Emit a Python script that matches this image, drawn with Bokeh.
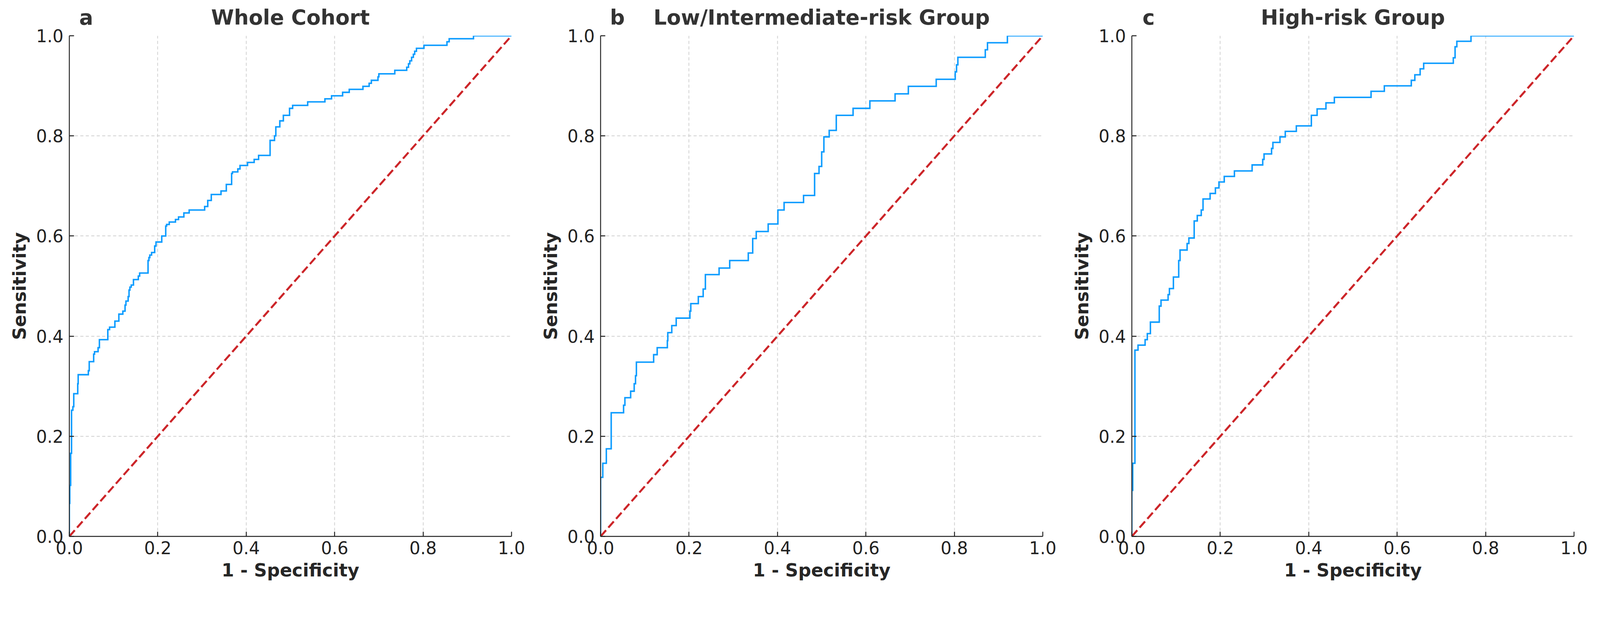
from bokeh.plotting import figure
from bokeh.layouts import row
from bokeh.models import Range1d, FixedTicker, PrintfTickFormatter, LinearAxis
from bokeh.embed import file_html
from bokeh.resources import INLINE

# ---------------- data ----------------
tick_vals = [0.0, 0.2, 0.4, 0.6, 0.8, 1.0]
diag_x = [0.0, 1.0]
diag_y = [0.0, 1.0]

panel_letters = ["a", "b", "c"]
panel_titles = ["Whole Cohort", "Low/Intermediate-risk Group", "High-risk Group"]
letter_pos = 0.038   # panel letter centre, as a fraction of the x axis
title_pos = 0.5
x_label = "1 - Specificity"
y_label = "Sensitivity"

# ROC steps: false positive rate where each vertical jump happens, and sensitivity reached
a_fpr = [0.000, 0.001, 0.003, 0.005, 0.008, 0.010, 0.019, 0.020, 0.043, 0.045,
         0.055, 0.057, 0.065, 0.068, 0.087, 0.091, 0.103, 0.112, 0.121, 0.126,
         0.128, 0.133, 0.135, 0.137, 0.140, 0.145, 0.156, 0.159, 0.178, 0.180,
         0.182, 0.186, 0.193, 0.196, 0.209, 0.218, 0.220, 0.226, 0.240, 0.247,
         0.259, 0.271, 0.306, 0.313, 0.321, 0.343, 0.355, 0.367, 0.369, 0.381,
         0.386, 0.403, 0.418, 0.428, 0.454, 0.464, 0.467, 0.476, 0.484, 0.498,
         0.505, 0.539, 0.578, 0.593, 0.618, 0.633, 0.664, 0.678, 0.683, 0.698,
         0.700, 0.736, 0.763, 0.767, 0.770, 0.774, 0.778, 0.781, 0.785, 0.802,
         0.854, 0.859, 0.914, 1.000]
a_tpr = [0.066, 0.102, 0.166, 0.252, 0.259, 0.285, 0.305, 0.323, 0.331, 0.349,
         0.364, 0.369, 0.377, 0.393, 0.413, 0.418, 0.430, 0.444, 0.450, 0.462,
         0.470, 0.479, 0.492, 0.498, 0.502, 0.513, 0.520, 0.526, 0.551, 0.557,
         0.562, 0.567, 0.580, 0.588, 0.600, 0.620, 0.623, 0.628, 0.633, 0.638,
         0.646, 0.652, 0.659, 0.671, 0.683, 0.690, 0.703, 0.725, 0.728, 0.734,
         0.741, 0.747, 0.753, 0.761, 0.791, 0.800, 0.818, 0.830, 0.841, 0.855,
         0.861, 0.868, 0.874, 0.880, 0.887, 0.893, 0.899, 0.905, 0.911, 0.918,
         0.924, 0.931, 0.937, 0.944, 0.950, 0.957, 0.963, 0.969, 0.975, 0.981,
         0.988, 0.994, 1.000, 1.000]

b_fpr = [0.000, 0.005, 0.013, 0.024, 0.052, 0.055, 0.068, 0.076, 0.079, 0.081,
         0.120, 0.128, 0.151, 0.152, 0.161, 0.171, 0.202, 0.204, 0.221, 0.232,
         0.237, 0.268, 0.292, 0.334, 0.344, 0.352, 0.379, 0.401, 0.415, 0.459,
         0.484, 0.494, 0.500, 0.505, 0.517, 0.533, 0.571, 0.609, 0.666, 0.696,
         0.759, 0.802, 0.805, 0.808, 0.870, 0.875, 0.920, 1.000]
b_tpr = [0.118, 0.146, 0.175, 0.247, 0.262, 0.277, 0.290, 0.305, 0.321, 0.348,
         0.363, 0.377, 0.391, 0.407, 0.421, 0.436, 0.450, 0.465, 0.479, 0.494,
         0.523, 0.536, 0.551, 0.566, 0.595, 0.609, 0.624, 0.652, 0.667, 0.681,
         0.725, 0.739, 0.768, 0.798, 0.811, 0.841, 0.855, 0.870, 0.884, 0.899,
         0.913, 0.928, 0.942, 0.957, 0.972, 0.986, 1.000, 1.000]

c_fpr = [0.000, 0.002, 0.007, 0.014, 0.030, 0.035, 0.042, 0.062, 0.066, 0.082,
         0.085, 0.094, 0.106, 0.109, 0.125, 0.129, 0.141, 0.148, 0.157, 0.161,
         0.177, 0.189, 0.197, 0.209, 0.232, 0.272, 0.296, 0.299, 0.316, 0.319,
         0.335, 0.347, 0.372, 0.406, 0.419, 0.439, 0.458, 0.541, 0.571, 0.632,
         0.640, 0.652, 0.660, 0.727, 0.731, 0.735, 0.767, 1.000]
c_tpr = [0.092, 0.146, 0.372, 0.382, 0.393, 0.405, 0.428, 0.460, 0.472, 0.483,
         0.495, 0.518, 0.551, 0.572, 0.585, 0.596, 0.630, 0.641, 0.652, 0.674,
         0.685, 0.696, 0.708, 0.719, 0.730, 0.742, 0.753, 0.764, 0.775, 0.787,
         0.798, 0.809, 0.820, 0.841, 0.854, 0.866, 0.877, 0.889, 0.900, 0.911,
         0.922, 0.934, 0.945, 0.956, 0.978, 0.989, 1.000, 1.000]

series = [(a_fpr, a_tpr), (b_fpr, b_tpr), (c_fpr, c_tpr)]

# ---------------- styling ----------------
BLUE = "#0d9cff"
RED = "#cc2529"
TEXT = "#262626"
FONT = "DejaVu Sans"


def roc_corners(fpr, tpr):
    xs, ys = [0.0], [0.0]
    prev = 0.0
    for x, y in zip(fpr, tpr):
        xs.append(x); ys.append(prev)
        xs.append(x); ys.append(y)
        prev = y
    return xs, ys


def make_panel(letter, title, fpr, tpr):
    p = figure(width=1360, height=1500,
               x_range=Range1d(0, 1), y_range=Range1d(0, 1),
               output_backend="svg", toolbar_location=None,
               min_border_left=177, min_border_right=51,
               min_border_top=91, min_border_bottom=128)
    p.outline_line_color = None
    p.background_fill_color = "white"
    p.border_fill_color = "white"

    for ax in (p.xaxis[0], p.yaxis[0]):
        ax.ticker = FixedTicker(ticks=tick_vals)
        ax.formatter = PrintfTickFormatter(format="%.1f")
        ax.axis_line_color = "#222222"
        ax.axis_line_width = 2.4
        ax.major_tick_line_color = "#222222"
        ax.major_tick_line_width = 2.4
        ax.major_tick_in = 12
        ax.major_tick_out = 0
        ax.minor_tick_line_color = None
        ax.major_label_text_font = FONT
        ax.major_label_text_font_size = "44px"
        ax.major_label_text_color = "#222222"
        ax.axis_label_text_font = FONT
        ax.axis_label_text_font_style = "bold"
        ax.axis_label_text_font_size = "46px"
        ax.axis_label_text_color = TEXT
    p.xaxis.axis_label = x_label
    p.yaxis.axis_label = y_label
    p.xaxis.major_label_standoff = 12
    p.yaxis.major_label_standoff = 15
    p.xaxis.axis_label_standoff = 11
    p.yaxis.axis_label_standoff = 13

    for g in (p.xgrid[0], p.ygrid[0]):
        g.ticker = FixedTicker(ticks=tick_vals)
        g.grid_line_color = "#cfcfcf"
        g.grid_line_width = 1.9
        g.grid_line_dash = "8 6"

    # panel letter and title, drawn as labels of an axis above the plot
    top = LinearAxis(ticker=FixedTicker(ticks=[letter_pos, title_pos]),
                     major_label_overrides={letter_pos: letter, title_pos: title})
    top.axis_line_color = None
    top.major_tick_line_color = None
    top.minor_tick_line_color = None
    top.major_label_standoff = 11
    top.major_label_text_font = FONT
    top.major_label_text_font_style = "bold"
    top.major_label_text_font_size = "53px"
    top.major_label_text_color = "#333333"
    p.add_layout(top, "above")

    xs, ys = roc_corners(fpr, tpr)
    p.line(xs, ys, line_color=BLUE, line_width=3.8, line_join="miter")
    p.line(diag_x, diag_y, line_color=RED, line_width=5.2, line_dash="21 9")
    return p


panels = [make_panel(l, t, f, s) for l, t, (f, s) in zip(panel_letters, panel_titles, series)]
layout = row(*panels)

open("out.html", "w").write(file_html(layout, INLINE))
